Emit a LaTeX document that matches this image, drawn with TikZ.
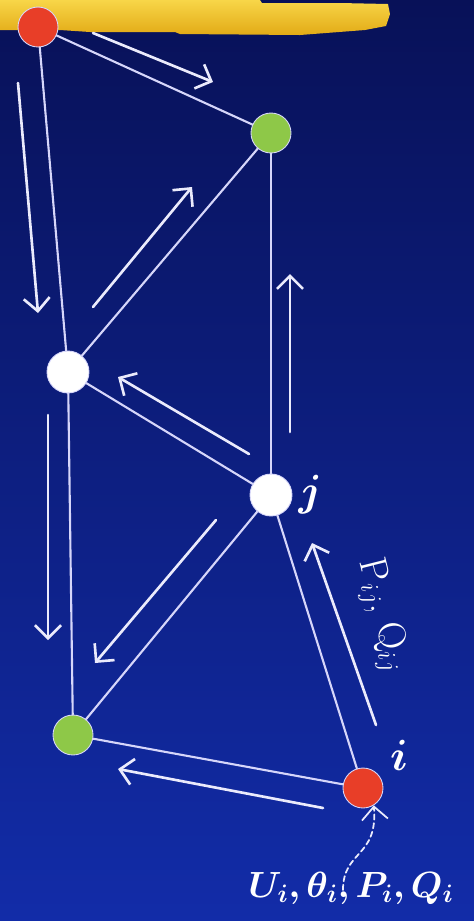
\documentclass[tikz,border=0pt]{standalone}
\usepackage{amsmath,bm}
\usetikzlibrary{arrows.meta}
\definecolor{navytop}{RGB}{8,17,88}
\definecolor{navymid}{RGB}{11,25,120}
\definecolor{navybot}{RGB}{18,44,168}
\definecolor{busred}{RGB}{232,62,40}
\definecolor{busgreen}{RGB}{142,200,72}
\definecolor{linecol}{RGB}{214,214,250}
\definecolor{barhi}{RGB}{248,214,72}
\definecolor{barlo}{RGB}{226,170,22}
\begin{document}
\begin{tikzpicture}[x=0.02cm, y=-0.02cm, line join=round, line cap=round, >={Straight Barb[length=2.6mm,width=5.2mm]}]
	\tikzset{
	bus/.style={circle, draw=linecol, line width=0.5pt, minimum size=0.8cm, inner sep=0pt},
	branch/.style={linecol, line width=1.2pt},
	flow/.style={->, linecol!50!white, line width=1.5pt},
	cue/.style={->, linecol!50!white, line width=1pt, dash pattern=on 3pt off 2pt},
	lbl/.style={text=white, font=\fontsize{23}{27}\selectfont}
	}
	% background and highlight bar
	\useasboundingbox (0,0) rectangle (474,921);
	\shade[top color=navytop, middle color=navymid, bottom color=navybot] (0,0) rectangle (474,921);
	\shade[top color=barhi, bottom color=barlo] (0,0) -- (260,0) -- (262,3) -- (340,3) -- (388,4) -- (390,14) -- (386,26) -- (365,30) -- (300,35) -- (180,34) -- (175,32) -- (90,32) -- (60,30) -- (0,30) -- cycle;
	% buses
	\node[bus, fill=busred] (rt) at (38,27) {};
	\node[bus, fill=busgreen] (gt) at (271,133) {};
	\node[bus, fill=white, minimum size=0.84cm] (wl) at (68,372) {};
	\node[bus, fill=white, minimum size=0.84cm] (bj) at (271,495) {};
	\node[bus, fill=busgreen] (gb) at (73,735) {};
	\node[bus, fill=busred] (bi) at (363,788) {};
	% branches
	\foreach \a/\b in {rt/gt, rt/wl, gt/wl, gt/bj, wl/bj, wl/gb, bj/gb, bj/bi, gb/bi}{
	\draw[branch] (\a) -- (\b);
	}
	% power flows
	\path (93,33) coordinate (f1a) (213,82) coordinate (f1b)
	(18,83) coordinate (f2a) (38,313) coordinate (f2b)
	(93,307) coordinate (f3a) (192,187) coordinate (f3b)
	(290,432) coordinate (f4a) (290,274) coordinate (f4b)
	(249,454) coordinate (f5a) (118,377) coordinate (f5b)
	(48,415) coordinate (f6a) (48,640) coordinate (f6b)
	(216,520) coordinate (f7a) (95,663) coordinate (f7b)
	(376,725) coordinate (f8a) (312,543) coordinate (f8b)
	(323,808) coordinate (f9a) (118,769) coordinate (f9b);
	\foreach \k in {1,...,9}{
	\draw[flow] (f\k a) -- (f\k b);
	}
	\coordinate (cs) at (343,890);
	\draw[cue] (cs) .. controls (343,850) and (378,858) .. (bi.-58);
	% labels
	\node[lbl, anchor=west] (lj) at (bj.east) {$\bm{j}$};
	\node[lbl] (li) at (399,755) {$\bm{i}$};
	\node[text=white, rotate=-76, font=\fontsize{22}{26}\selectfont] (lpq) at (382,615) {P$_{ij}$, Q$_{ij}$};
	\node[lbl, font=\fontsize{21}{25}\selectfont] (lu) at (351,888) {$\bm{U_i, \theta_i, P_i, Q_i}$};
\end{tikzpicture}
\end{document}
